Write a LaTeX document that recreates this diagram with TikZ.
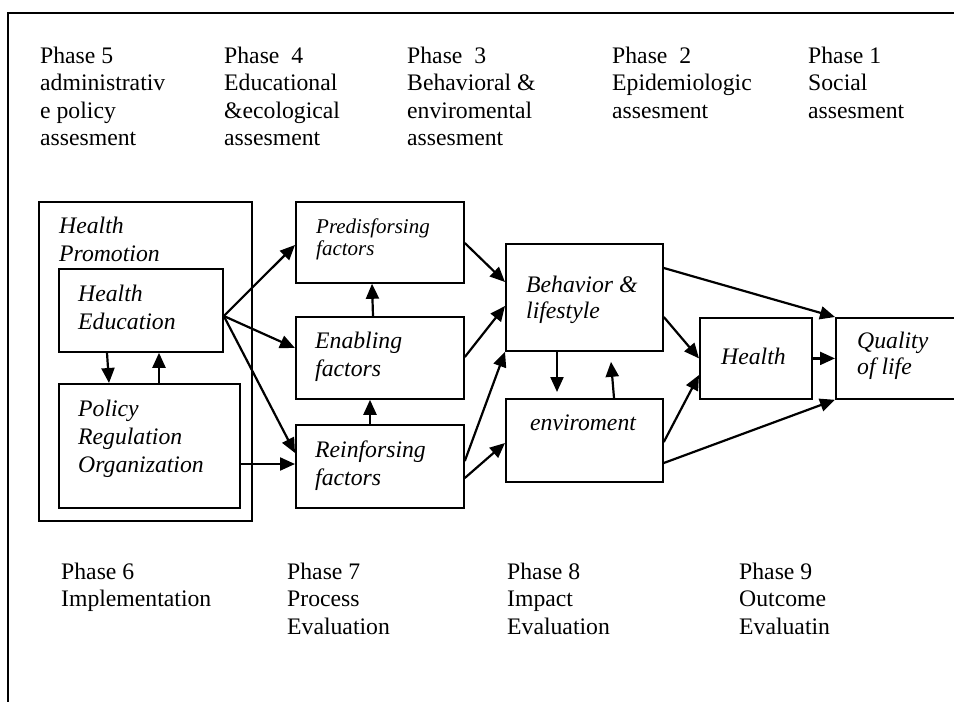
\documentclass[tikz,border=0pt]{standalone}
\usepackage{fontspec}
\setmainfont{Liberation Serif}
\usetikzlibrary{arrows.meta,calc}
\tikzset{
  box/.style={draw, line width=1.8pt, inner sep=0pt, anchor=north west},
  txt/.style={anchor=base west, inner sep=0pt, align=left, font=\fontsize{23.7}{27.5}\selectfont},
  itxt/.style={anchor=base west, inner sep=0pt, align=left, font=\fontsize{23.7}{28}\selectfont\itshape},
  arr/.style={-{Triangle[length=15pt,width=13pt]}, line width=2.2pt},
}
\begin{document}
\begin{tikzpicture}[x=1pt,y=-1pt]
\useasboundingbox (0,0) rectangle (954,702);
\fill[white] (0,0) rectangle (954,702);
% outer frame (right and bottom sides lie off the page)
\draw[line width=2pt] (8,13) rectangle (975,720);

% top phase labels (anchored at the baseline of their last line)
\node[txt] (p5) at (40,145.5)  {Phase 5\\administrativ\\e policy\\assesment};
\node[txt] (p4) at (224,145.5) {Phase\ \ 4\\Educational\\\&ecological\\assesment};
\node[txt] (p3) at (407,145.5) {Phase\ \ 3\\Behavioral \&\\enviromental\\assesment};
\node[txt] (p2) at (612,118)   {Phase\ \ 2\\Epidemiologic\\assesment};
\node[txt] (p1) at (808,118)   {Phase 1\\Social\\assesment};

% boxes
\node[box, minimum width=213pt, minimum height=319pt] (hp)  at (38,201)  {};
\node[box, minimum width=164pt, minimum height=83pt]  (he)  at (58,268)  {};
\node[box, minimum width=181pt, minimum height=124pt] (pro) at (58,383)  {};
\node[box, minimum width=168pt, minimum height=81pt]  (pre) at (295,201) {};
\node[box, minimum width=168pt, minimum height=82pt]  (ena) at (295,316) {};
\node[box, minimum width=168pt, minimum height=83pt]  (rei) at (295,424) {};
\node[box, minimum width=157pt, minimum height=107pt] (beh) at (505,243) {};
\node[box, minimum width=157pt, minimum height=83pt]  (env) at (505,398) {};
\node[box, minimum width=112pt, minimum height=81pt]  (hea) at (699,317) {};
\node[box, minimum width=150pt, minimum height=81pt]  (qol) at (835,317) {};

% box texts
\node[itxt] (thp)  at (59,261)  {Health\\Promotion};
\node[itxt] (the)  at (78,329)  {Health\\Education};
\node[itxt] (tpro) at (78,472)  {Policy\\Regulation\\Organization};
\node[itxt, font=\fontsize{21}{22}\selectfont\itshape] (tpre) at (316,255) {Predisforsing\\factors};
\node[itxt] (tena) at (315,376) {Enabling\\factors};
\node[itxt] (trei) at (315,485) {Reinforsing\\factors};
\node[itxt, font=\fontsize{23.7}{26.5}\selectfont\itshape] (tbeh) at (526,318.5) {Behavior \&\\lifestyle};
\node[itxt] (tenv) at (530,430) {enviroment};
\node[itxt] (thea) at (721,364) {Health};
\node[itxt, font=\fontsize{23.7}{26}\selectfont\itshape] (tqol) at (857,374) {Quality\\of life};

% bottom phase labels
\node[txt] (p6) at (61,606.5) {Phase 6\\Implementation};
\node[txt] (p7) at (287,634)  {Phase 7\\Process\\Evaluation};
\node[txt] (p8) at (507,634)  {Phase 8\\Impact\\Evaluation};
\node[txt] (p9) at (739,634)  {Phase 9\\Outcome\\Evaluatin};

% connectors
\draw[arr] ($(he.north east)+(0,48)$) -- ($(pre.north west)+(0,44)$);
\draw[arr] ($(he.north east)+(0,48)$) -- ($(ena.north west)+(0,32)$);
\draw[arr] ($(he.north east)+(0,48)$) -- ($(rei.north west)+(0,29)$);
\draw[arr] ($(pro.north east)+(0,81)$) -- ($(rei.north west)+(0,40)$);
\draw[arr] ($(he.south west)+(49,0)$) -- ($(pro.north west)+(51,0)$);
\draw[arr] ($(pro.north west)+(101,0)$) -- ($(he.south west)+(101,0)$);
\draw[arr] ($(ena.north west)+(78,0)$) -- ($(pre.south west)+(77,0)$);
\draw[arr] ($(rei.north west)+(75,0)$) -- ($(ena.south west)+(75,0)$);
\draw[arr] ($(pre.north east)+(0,42)$) -- ($(beh.north west)+(0,39)$);
\draw[arr] ($(ena.north east)+(0,41)$) -- ($(beh.north west)+(0,63)$);
\draw[arr] ($(rei.north east)+(0,37)$) -- (beh.south west);
\draw[arr] ($(rei.north east)+(0,54)$) -- ($(env.north west)+(0,45)$);
\draw[arr] ($(beh.south west)+(52,0)$) -- ($(env.north west)+(52,-6)$);
\draw[arr] ($(env.north west)+(109,0)$) -- ($(beh.south west)+(106,10)$);
\draw[arr] ($(beh.north east)+(0,25)$) -- (qol.north west);
\draw[arr] ($(beh.north east)+(0,74)$) -- (hea.west);
\draw[arr] ($(env.north east)+(0,44)$) -- ($(hea.north west)+(0,58)$);
\draw[arr] ($(env.north east)+(0,65)$) -- (qol.south west);
\draw[arr] (hea.east) -- (hea.east -| qol.west);
\end{tikzpicture}
\end{document}
